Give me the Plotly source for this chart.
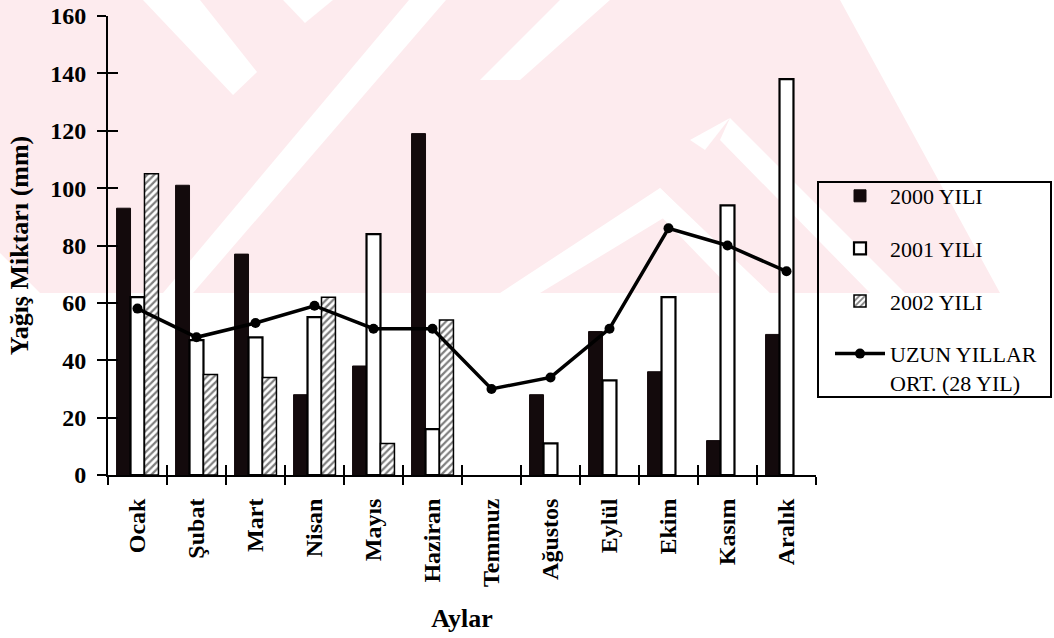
import plotly.graph_objects as go

months = ["Ocak", "Şubat", "Mart", "Nisan", "Mayıs", "Haziran",
          "Temmuz", "Ağustos", "Eylül", "Ekim", "Kasım", "Aralık"]
y2000 = [93, 101, 77, 28, 38, 119, None, 28, 50, 36, 12, 49]
y2001 = [62, 47, 48, 55, 84, 16, None, 11, 33, 62, 94, 138]
y2002 = [105, 35, 34, 62, 11, 54, None, None, None, None, None, None]
long_avg = [58, 48, 53, 59, 51, 51, 30, 34, 51, 86, 80, 71]

FONT = "Liberation Serif"

# pixel geometry of plot area
L, R, T, B = 108, 816, 16, 475
W, H = 1054, 638


def px(xp, yp):
    return (xp - L) / (R - L), (B - yp) / (B - T)


def poly(points):
    parts = []
    for i, (a, b) in enumerate(points):
        x, y = px(a, b)
        parts.append(("M" if i == 0 else "L") + f"{x:.4f},{y:.4f}")
    return " ".join(parts) + " Z"


PINK = "#fdebee"
shapes = [
    dict(type="path", xref="paper", yref="paper", layer="below", line_width=0,
         fillcolor=PINK,
         path=poly([(0, 0), (840, 0), (1000, 293), (40, 293), (0, 253)])),
]
whites = [
    [(143, 0), (200, 0), (257, 72), (233, 95)],
    [(409, 0), (446, 0), (193, 293), (163, 293)],
    [(283, 0), (333, 0), (305, 23)],
    [(660, 188), (680, 208), (540, 293), (500, 293)],
    [(660, 188), (770, 293), (735, 293), (650, 205)],
    [(730, 118), (905, 293), (870, 293), (720, 140)],
    [(730, 118), (705, 150), (690, 140)],
    [(560, 0), (610, 0), (520, 80), (480, 80)],
]
for w in whites:
    shapes.append(dict(type="path", xref="paper", yref="paper", layer="below",
                       line_width=0, fillcolor="white", path=poly(w)))

# legend box
x0, y0 = px(818, 397)
x1, y1 = px(1051, 182)
shapes.append(dict(type="rect", xref="paper", yref="paper", x0=x0, y0=y0,
                   x1=x1, y1=y1, line=dict(color="black", width=2),
                   fillcolor="rgba(0,0,0,0)", layer="above"))

fig = go.Figure()
fig.add_trace(go.Bar(x=months, y=y2000, name="2000 YILI", legendgroup="a",
                     marker=dict(color="#130a0c", line=dict(color="#130a0c", width=1))))
fig.add_trace(go.Bar(x=months, y=y2001, name="2001 YILI", legendgroup="b",
                     marker=dict(color="white", line=dict(color="black", width=2.2))))
fig.add_trace(go.Bar(x=months, y=y2002, name="2002 YILI", legendgroup="c",
                     marker=dict(color="white", line=dict(color="black", width=1.5),
                                 pattern=dict(shape="/", fgcolor="black", bgcolor="white",
                                              size=5, solidity=0.45))))
fig.add_trace(go.Scatter(x=months, y=long_avg, name="UZUN YILLAR<br>ORT. (28 YIL)",
                         legendgroup="d", mode="lines+markers", xaxis="x2", yaxis="y2",
                         line=dict(color="black", width=3.5),
                         marker=dict(color="black", size=10, symbol="circle")))

axis_common = dict(showgrid=False, zeroline=False, tickcolor="black", tickwidth=2,
                   automargin=False)

fig.update_layout(
    width=W, height=H,
    margin=dict(l=L, r=W - R, t=T, b=H - B, autoexpand=False),
    paper_bgcolor="white", plot_bgcolor="rgba(0,0,0,0)",
    font=dict(family=FONT, color="black"),
    barmode="group", bargap=0.29, bargroupgap=0,
    shapes=shapes,
    xaxis=dict(type="category", categoryorder="array", categoryarray=months,
               range=[-0.5, 11.5], tickson="boundaries", ticks="outside", ticklen=8,
               tickangle=-90, ticklabelstandoff=12, showline=True,
               linecolor="black", linewidth=2,
               tickfont=dict(family=FONT, size=24, color="black", weight="bold"),
               title=dict(text="<b>Aylar</b>", font=dict(family=FONT, size=26),
                          standoff=23),
               **axis_common),
    yaxis=dict(range=[0, 160], dtick=20, ticks="outside", ticklen=9, showline=True,
               linecolor="black", linewidth=2, ticklabelstandoff=6,
               tickfont=dict(family=FONT, size=24, color="black", weight="bold"),
               title=dict(text="<b>Yağış Miktarı (mm)</b>", font=dict(family=FONT, size=26),
                          standoff=14),
               **axis_common),
    xaxis2=dict(type="category", categoryorder="array", categoryarray=months,
                range=[-0.5, 11.5], overlaying="x", anchor="y2", side="bottom",
                tickson="boundaries", ticks="inside", ticklen=10, showticklabels=False,
                showline=False, **axis_common),
    yaxis2=dict(range=[0, 160], dtick=20, overlaying="y", anchor="x2", side="left",
                ticks="inside", ticklen=10, showticklabels=False, showline=False,
                **axis_common),
    legend=dict(x=px(830, 0)[0], y=px(0, 175)[1], xanchor="left", yanchor="top",
                bgcolor="rgba(0,0,0,0)", borderwidth=0,
                font=dict(family=FONT, size=22, color="black"),
                traceorder="grouped", tracegroupgap=21, valign="top",
                itemwidth=50),
)

fig.write_html("out.html", post_script="document.body.style.margin='0';",
               config={"displayModeBar": False})
